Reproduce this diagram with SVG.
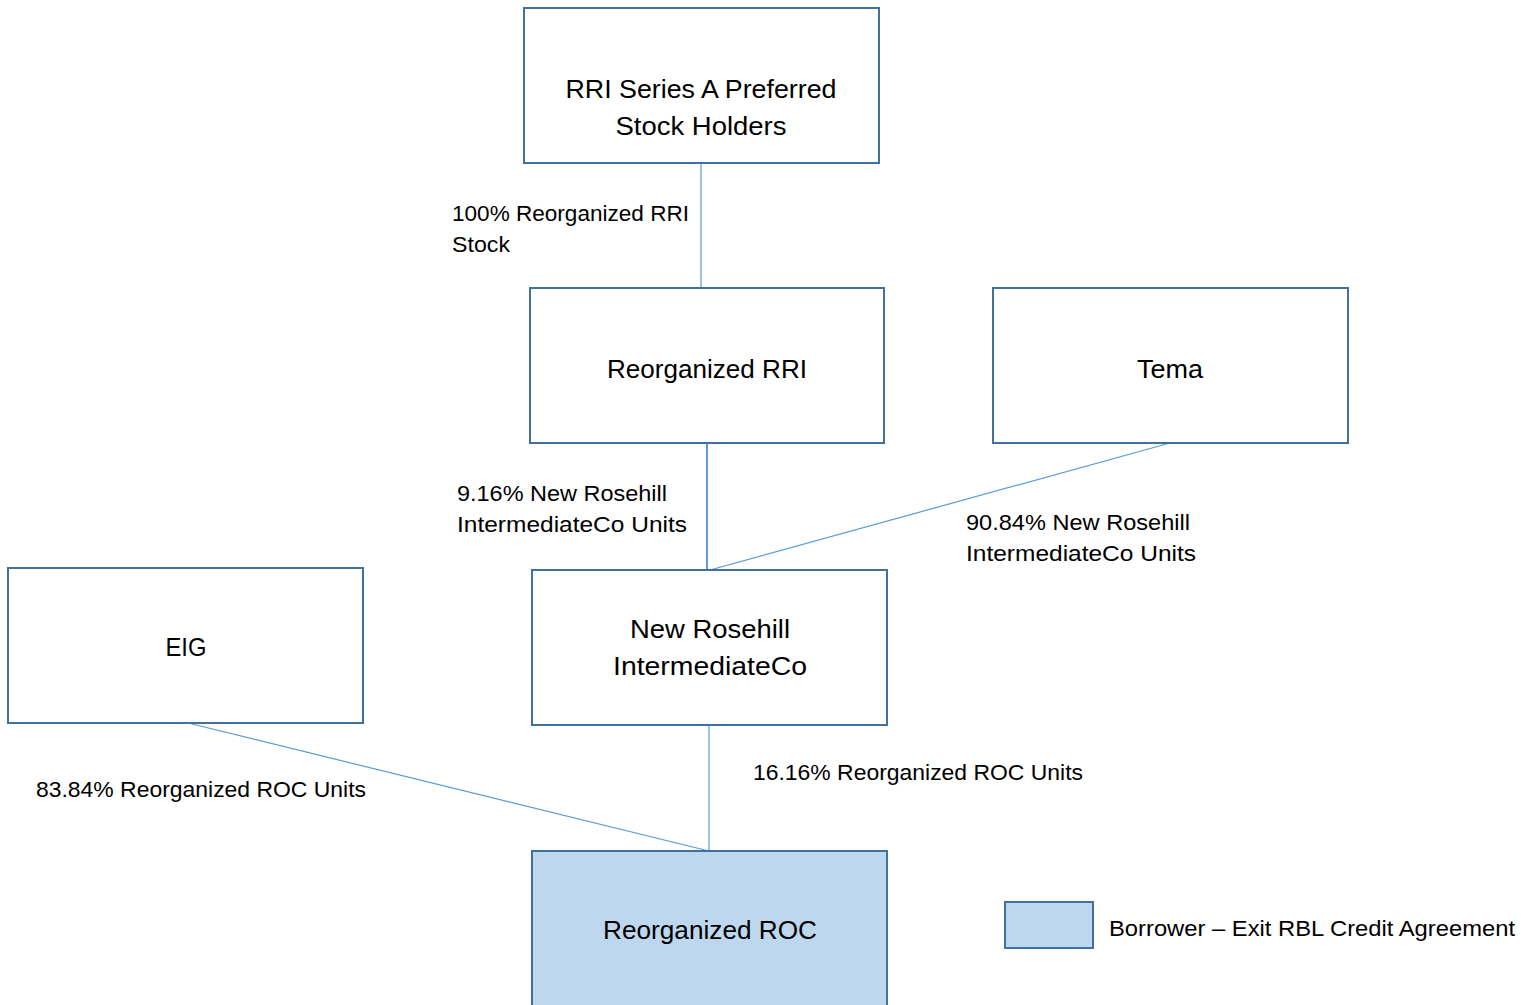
<svg xmlns="http://www.w3.org/2000/svg" width="1521" height="1005" viewBox="0 0 1521 1005">
<style>
.box{fill:#fff;stroke:#41719C;stroke-width:2}
.hl{fill:#BDD7EE}
.t{font-family:"Liberation Sans",Arial,sans-serif;font-size:26px;fill:#000;text-anchor:middle}
.l{font-family:"Liberation Sans",Arial,sans-serif;font-size:21.5px;fill:#000}
.c{stroke:#5B9BD5;stroke-width:1.2;fill:none}
</style>
<rect width="1521" height="1005" fill="#fff"/>
<g id="connectors">
<line class="c" x1="701" y1="163" x2="701" y2="288"/>
<line class="c" x1="707" y1="443" x2="707" y2="570" style="stroke-width:2"/>
<line class="c" x1="1170" y1="443" x2="710" y2="570"/>
<line class="c" x1="709" y1="725" x2="709" y2="851"/>
<line class="c" x1="188" y1="723" x2="709" y2="851"/>
</g>
<g id="labels">
<text class="l" x="452" y="221" textLength="237" lengthAdjust="spacingAndGlyphs">100% Reorganized RRI</text>
<text class="l" x="452" y="252" textLength="58" lengthAdjust="spacingAndGlyphs">Stock</text>
<text class="l" x="457" y="501" textLength="210" lengthAdjust="spacingAndGlyphs">9.16% New Rosehill</text>
<text class="l" x="457" y="532" textLength="230" lengthAdjust="spacingAndGlyphs">IntermediateCo Units</text>
<text class="l" x="966" y="530" textLength="224" lengthAdjust="spacingAndGlyphs">90.84% New Rosehill</text>
<text class="l" x="966" y="561" textLength="230" lengthAdjust="spacingAndGlyphs">IntermediateCo Units</text>
<text class="l" x="36" y="797" textLength="330" lengthAdjust="spacingAndGlyphs">83.84% Reorganized ROC Units</text>
<text class="l" x="753" y="780" textLength="330" lengthAdjust="spacingAndGlyphs">16.16% Reorganized ROC Units</text>
</g>
<g id="rri-series-a">
<rect class="box" x="524" y="8" width="355" height="155"/>
<text class="t" x="701" y="98" textLength="271" lengthAdjust="spacingAndGlyphs">RRI Series A Preferred</text>
<text class="t" x="701" y="135" textLength="171" lengthAdjust="spacingAndGlyphs">Stock Holders</text>
</g>
<g id="reorganized-rri">
<rect class="box" x="530" y="288" width="354" height="155"/>
<text class="t" x="707" y="378" textLength="200" lengthAdjust="spacingAndGlyphs">Reorganized RRI</text>
</g>
<g id="tema">
<rect class="box" x="993" y="288" width="355" height="155"/>
<text class="t" x="1170" y="378" textLength="66" lengthAdjust="spacingAndGlyphs">Tema</text>
</g>
<g id="eig">
<rect class="box" x="8" y="568" width="355" height="155"/>
<text class="t" x="186" y="656" textLength="41" lengthAdjust="spacingAndGlyphs">EIG</text>
</g>
<g id="new-rosehill">
<rect class="box" x="532" y="570" width="355" height="155"/>
<text class="t" x="710" y="638" textLength="160" lengthAdjust="spacingAndGlyphs">New Rosehill</text>
<text class="t" x="710" y="675" textLength="194" lengthAdjust="spacingAndGlyphs">IntermediateCo</text>
</g>
<g id="reorganized-roc">
<rect class="box hl" x="532" y="851" width="355" height="170"/>
<text class="t" x="710" y="939" textLength="214" lengthAdjust="spacingAndGlyphs">Reorganized ROC</text>
</g>
<g id="legend">
<rect class="box hl" x="1005" y="902" width="88" height="46"/>
<text class="l" x="1109" y="936" textLength="406" lengthAdjust="spacingAndGlyphs">Borrower – Exit RBL Credit Agreement</text>
</g>
</svg>
